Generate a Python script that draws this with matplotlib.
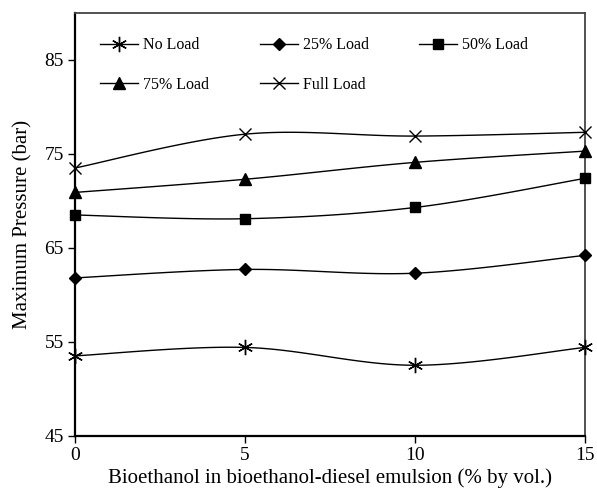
import numpy as np
import matplotlib
matplotlib.use("Agg")
import matplotlib.pyplot as plt

plt.rcParams["font.family"] = ["Liberation Serif", "DejaVu Serif"]

blend = [0, 5, 10, 15]  # % bioethanol by volume
no_load = [53.5, 54.4, 52.5, 54.4]
load_25 = [61.8, 62.7, 62.3, 64.2]
load_50 = [68.5, 68.1, 69.3, 72.4]
load_75 = [70.9, 72.3, 74.1, 75.3]
full_load = [73.5, 77.1, 76.9, 77.3]


def smooth(x, y, n=40):
    # Catmull-Rom style curve through the points (like spreadsheet "smoothed line")
    x = np.asarray(x, float)
    y = np.asarray(y, float)
    px = np.concatenate([[x[0]], x, [x[-1]]])
    py = np.concatenate([[y[0]], y, [y[-1]]])
    xs, ys = [], []
    t = np.linspace(0, 1, n)
    for i in range(1, len(px) - 2):
        p0 = np.array([px[i], py[i]])
        p3 = np.array([px[i + 1], py[i + 1]])
        p1 = p0 + (np.array([px[i + 1], py[i + 1]]) - np.array([px[i - 1], py[i - 1]])) / 6
        p2 = p3 - (np.array([px[i + 2], py[i + 2]]) - np.array([px[i], py[i]])) / 6
        b = ((1 - t) ** 3)[:, None] * p0 + (3 * (1 - t) ** 2 * t)[:, None] * p1 \
            + (3 * (1 - t) * t ** 2)[:, None] * p2 + (t ** 3)[:, None] * p3
        xs.extend(b[:, 0])
        ys.extend(b[:, 1])
    return xs, ys


fig = plt.figure(figsize=(5.97, 4.93), dpi=100)
ax = fig.add_axes([0.1256, 0.1162, 0.8544, 0.8574])

series = [
    (no_load, "No Load", (6, 2, 0), 11, "none"),
    (load_25, "25% Load", "D", 6, "black"),
    (load_50, "50% Load", "s", 7, "black"),
    (load_75, "75% Load", "^", 8, "black"),
    (full_load, "Full Load", "x", 9, "none"),
]

handles = {}
for vals, name, mk, ms, fc in series:
    sx, sy = smooth(blend, vals)
    ax.plot(sx, sy, color="black", lw=1.0, clip_on=False)
    ax.plot(blend, vals, linestyle="none", marker=mk, markersize=ms,
            markerfacecolor=fc, markeredgecolor="black", markeredgewidth=1.0,
            clip_on=False, zorder=5)
    h, = ax.plot([], [], color="black", lw=1.0, marker=mk, markersize=ms,
                 markerfacecolor=fc, markeredgecolor="black", markeredgewidth=1.0)
    handles[name] = h

order = ["No Load", "75% Load", "25% Load", "Full Load", "50% Load"]
ax.legend([handles[k] for k in order], order, ncol=3, frameon=False,
          loc="upper left", bbox_to_anchor=(0.021, 0.977), fontsize=11.5,
          handlelength=2.4, handletextpad=0.3, columnspacing=3.15,
          labelspacing=1.5, borderpad=0.4)

ax.set_xlim(0, 15)
ax.set_ylim(45, 90)
ax.set_xticks([0, 5, 10, 15])
ax.set_yticks([45, 55, 65, 75, 85])
ax.tick_params(direction="out", length=5, width=1, labelsize=14, colors="black",
               top=False, right=False)
ax.tick_params(axis="y", pad=3)
ax.tick_params(axis="x", pad=3)

for side in ["left", "bottom"]:
    ax.spines[side].set_linewidth(1.6)
    ax.spines[side].set_color("black")
for side in ["top", "right"]:
    ax.spines[side].set_linewidth(1.3)
    ax.spines[side].set_color("#444444")

ax.set_xlabel("Bioethanol in bioethanol-diesel emulsion (% by vol.)", fontsize=15, labelpad=3)
ax.set_ylabel("Maximum Pressure (bar)", fontsize=15, labelpad=9)

fig.savefig("out.png", dpi=100)
